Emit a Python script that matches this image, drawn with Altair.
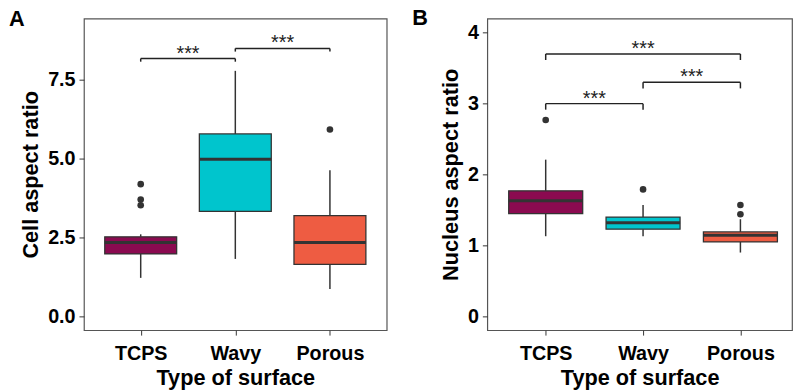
import json
import altair as alt
import pandas as pd

# ---------------- data ----------------
surfaces = ["TCPS", "Wavy", "Porous"]
colors = ["#8B0A50", "#00C5CD", "#EE5C42"]

cell_q1 = [1.98, 3.33, 1.65]
cell_median = [2.34, 4.98, 2.34]
cell_q3 = [2.52, 5.78, 3.19]
cell_whisker_low = [1.22, 1.82, 0.87]
cell_whisker_high = [2.60, 7.78, 4.63]
cell_outlier_surface = ["TCPS", "TCPS", "TCPS", "Porous"]
cell_outlier_value = [4.19, 3.70, 3.52, 5.92]
cell_bracket_from = ["TCPS", "Wavy"]
cell_bracket_to = ["Wavy", "Porous"]
cell_bracket_y = [8.17, 8.49]
cell_bracket_label = ["***", "***"]

nuc_q1 = [1.45, 1.23, 1.05]
nuc_median = [1.63, 1.32, 1.145]
nuc_q3 = [1.77, 1.40, 1.19]
nuc_whisker_low = [1.13, 1.13, 0.90]
nuc_whisker_high = [2.21, 1.57, 1.37]
nuc_outlier_surface = ["TCPS", "Wavy", "Porous", "Porous"]
nuc_outlier_value = [2.77, 1.79, 1.57, 1.44]
nuc_bracket_from = ["TCPS", "Wavy", "TCPS"]
nuc_bracket_to = ["Wavy", "Porous", "Porous"]
nuc_bracket_y = [3.00, 3.30, 3.70]
nuc_bracket_label = ["***", "***", "***"]

FONT = "Liberation Sans"
DARK = "#333333"
label_expr = json.dumps(surfaces) + "[datum.value - 1]"


def idx(s):
    return surfaces.index(s) + 1


def panel(q1, med, q3, wlo, whi, o_s, o_v, b_from, b_to, b_y, b_lab,
          ydomain, yvalues, yformat, ytitle, letter, letter_x, letter_y,
          width, xdomain, half, tip):
    boxes = pd.DataFrame({
        "surface": surfaces, "i": [idx(s) for s in surfaces],
        "q1": q1, "median": med, "q3": q3, "lo": wlo, "hi": whi,
    })
    outs = pd.DataFrame({"i": [idx(s) for s in o_s], "v": o_v})
    brk = pd.DataFrame({"a": [idx(s) for s in b_from],
                        "b": [idx(s) for s in b_to],
                        "y": b_y, "label": b_lab})

    xs = alt.Scale(domain=xdomain, nice=False, zero=False)
    ys = alt.Scale(domain=ydomain, nice=False, zero=False)
    xax = alt.Axis(values=[1, 2, 3], labelExpr=label_expr,
                   title="Type of surface")
    yax = alt.Axis(values=yvalues, format=yformat, title=ytitle)

    base = alt.Chart(boxes).transform_calculate(
        xl=f"datum.i - {half}", xr=f"datum.i + {half}")

    wh_lo = base.mark_rule(color=DARK, strokeWidth=1.5).encode(
        x=alt.X("i:Q", scale=xs, axis=xax),
        y=alt.Y("lo:Q", scale=ys, axis=yax), y2="q1:Q")
    wh_hi = base.mark_rule(color=DARK, strokeWidth=1.5).encode(
        x="i:Q", y="q3:Q", y2="hi:Q")
    box = base.mark_bar(stroke=DARK, strokeWidth=1.3, opacity=1).encode(
        x="xl:Q", x2="xr:Q", y="q1:Q", y2="q3:Q",
        fill=alt.Fill("surface:N",
                      scale=alt.Scale(domain=surfaces, range=colors),
                      legend=None))
    mline = base.mark_rule(color=DARK, strokeWidth=3).encode(
        x="xl:Q", x2="xr:Q", y="median:Q")
    pts = alt.Chart(outs).mark_circle(color=DARK, opacity=1, size=45).encode(
        x="i:Q", y="v:Q")

    bbase = alt.Chart(brk).transform_calculate(t=f"datum.y - {tip}")
    bh = bbase.mark_rule(color="#222", strokeWidth=1.5).encode(
        x="a:Q", x2="b:Q", y="y:Q")
    bl = bbase.mark_rule(color="#222", strokeWidth=1.5).encode(
        x="a:Q", y="y:Q", y2="t:Q")
    br = bbase.mark_rule(color="#222", strokeWidth=1.5).encode(
        x="b:Q", y="y:Q", y2="t:Q")
    bt = bbase.transform_calculate(m="(datum.a + datum.b) / 2").mark_text(
        font=FONT, fontSize=20, color="#222", baseline="alphabetic", dy=1
    ).encode(x="m:Q", y="y:Q", text="label:N")

    let = alt.Chart(pd.DataFrame({"t": [letter]})).mark_text(
        font=FONT, fontSize=22, fontWeight="bold", color="black",
        align="left", baseline="alphabetic"
    ).encode(x=alt.value(letter_x), y=alt.value(letter_y), text="t:N")

    return alt.layer(wh_lo, wh_hi, box, mline, pts, bh, bl, br, bt, let
                     ).properties(width=width, height=316)


pA = panel(cell_q1, cell_median, cell_q3, cell_whisker_low, cell_whisker_high,
           cell_outlier_surface, cell_outlier_value, cell_bracket_from,
           cell_bracket_to, cell_bracket_y, cell_bracket_label,
           [-0.4375, 9.4375], [0, 2.5, 5, 7.5], ".1f", "Cell aspect ratio",
           "A", -76, 8, 307, [0.4, 3.6], 0.38, 0.1)
pB = panel(nuc_q1, nuc_median, nuc_q3, nuc_whisker_low, nuc_whisker_high,
           nuc_outlier_surface, nuc_outlier_value, nuc_bracket_from,
           nuc_bracket_to, nuc_bracket_y, nuc_bracket_label,
           [-0.195, 4.2], [0, 1, 2, 3, 4], "d", "Nucleus aspect ratio",
           "B", -76, 6.5, 309, [0.4, 3.53], 0.38, 0.085)

chart = alt.hconcat(pA, pB, spacing=102, bounds="flush").properties(
    padding={"left": 0, "top": -5, "right": 0, "bottom": 0}
).configure_view(
    stroke="#555555", strokeWidth=1.2
).configure_axis(
    grid=False, domain=False, ticks=True, tickColor=DARK, tickSize=5,
    tickWidth=1, labelFont=FONT, labelFontWeight="bold", labelFontSize=20,
    labelColor="black", labelPadding=4, titleFont=FONT,
    titleFontWeight="bold", titleFontSize=22, titleColor="black",
    titlePadding=4
).configure_axisY(labelPadding=4, titlePadding=5).configure_axisX(
    labelPadding=9, titlePadding=4)

chart.save("out.html", embed_options={"renderer": "svg", "actions": False})
